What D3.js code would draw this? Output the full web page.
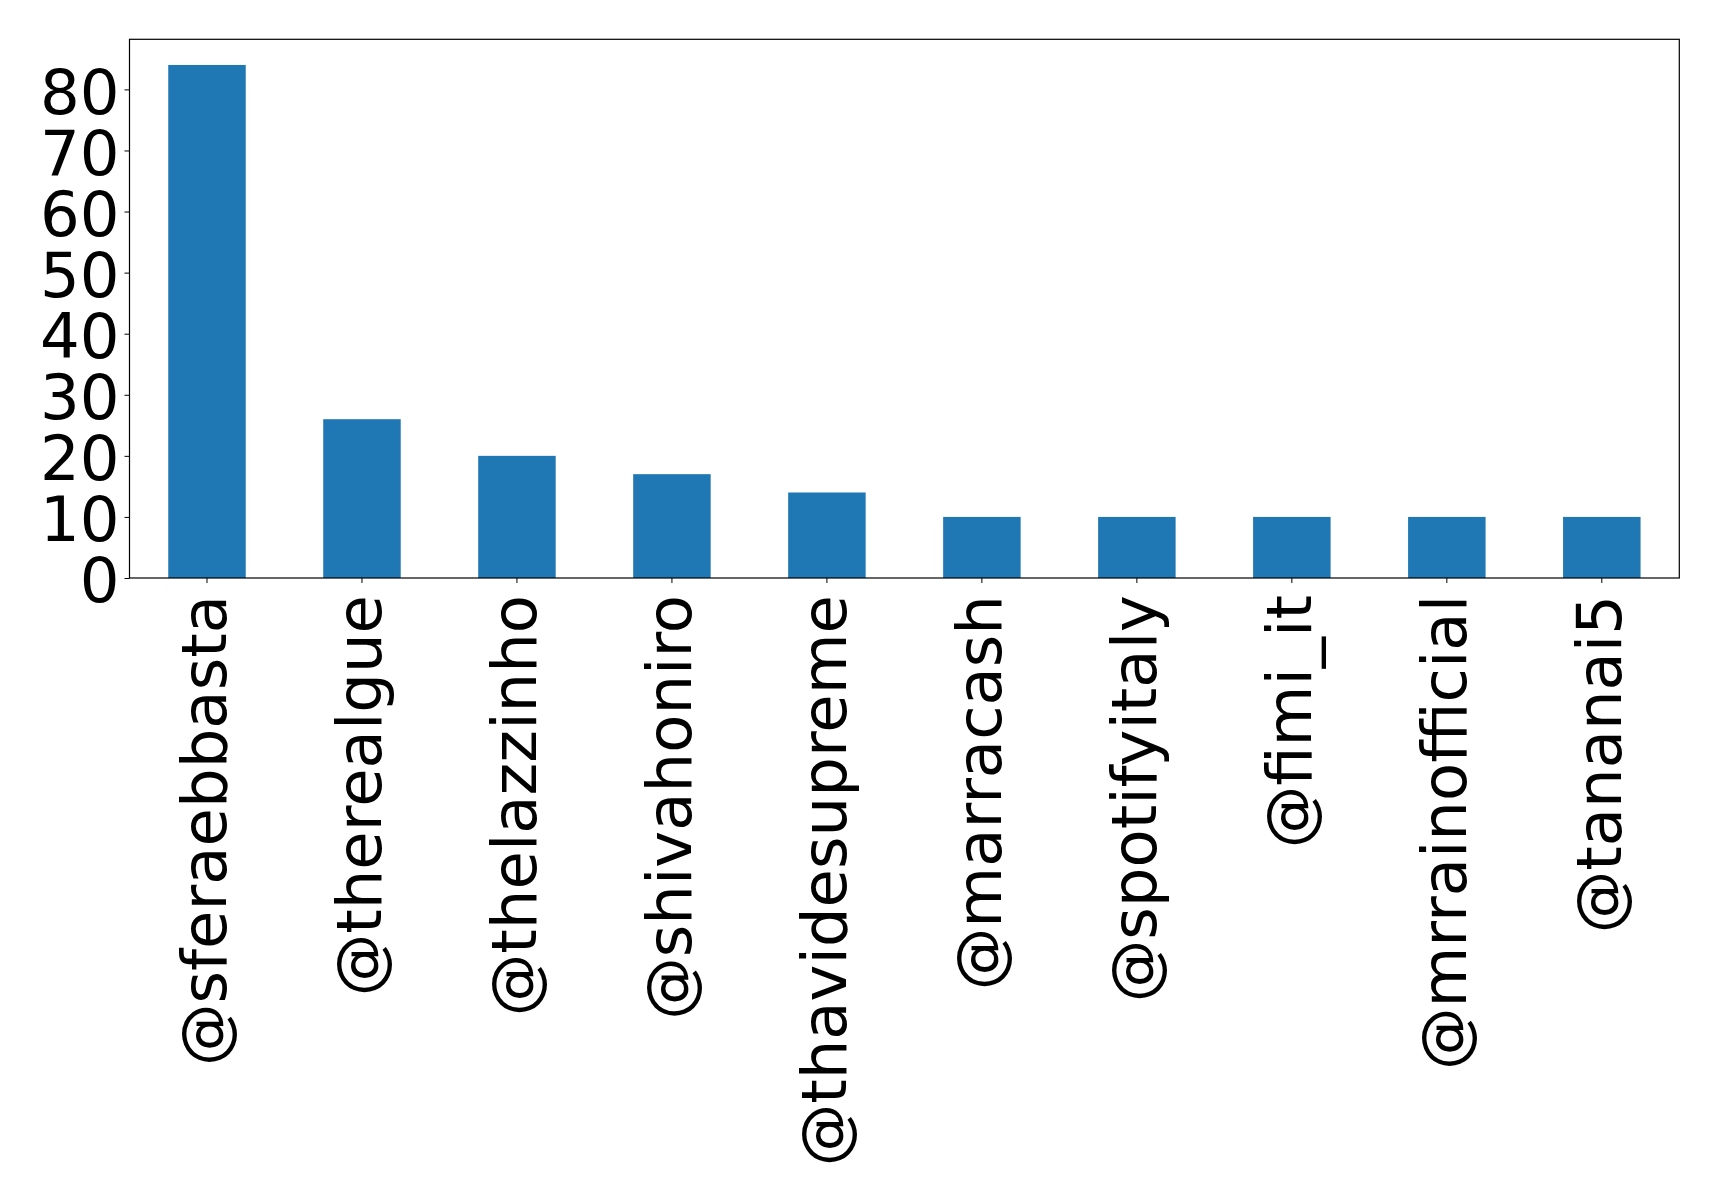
<!DOCTYPE html>
<html><head><meta charset="utf-8">
<script src="https://cdn.jsdelivr.net/npm/d3@7"></script>
<style>html,body{margin:0;padding:0;background:#fff;}svg{display:block;}</style>
</head><body>
<script>
const categories = ["@sferaebbasta","@therealgue","@thelazzinho","@shivahoniro","@thavidesupreme","@marracash","@spotifyitaly","@fimi_it","@mrrainofficial","@tananai5"];
const values = [84, 26, 20, 17, 14, 10, 10, 10, 10, 10];
const yTicks = [0, 10, 20, 30, 40, 50, 60, 70, 80];

const W = 1719, H = 1199;
const m = {left: 129.5, top: 39.3, right: W - 1679.3, bottom: H - 578};
const fontSize = 62.5;
const svg = d3.select("body").append("svg").attr("width", W).attr("height", H)
  .style("font-family", "'DejaVu Sans', sans-serif");

const x = d3.scaleBand().domain(categories).range([m.left, W - m.right]).paddingInner(0.5).paddingOuter(0.25);
const yMax = d3.max(values) * 1.05;
const y = d3.scaleLinear().domain([0, yMax]).range([H - m.bottom, m.top]);

svg.append("g").selectAll("rect").data(values).join("rect")
  .attr("x", (d, i) => x(categories[i]))
  .attr("width", x.bandwidth())
  .attr("y", d => y(d))
  .attr("height", d => y(0) - y(d))
  .attr("fill", "#1f77b4");

// Y axis
const yAxis = svg.append("g").attr("transform", `translate(${m.left},0)`)
  .call(d3.axisLeft(y).tickValues(yTicks).tickSize(5).tickPadding(5));
yAxis.select(".domain").remove();
yAxis.selectAll("line").attr("stroke", "#000").attr("stroke-width", 1);
yAxis.selectAll("text").attr("font-size", fontSize).attr("fill", "#000")
  .attr("font-family", "'DejaVu Sans', sans-serif").attr("dy", "0.38em");

// X axis
const xAxis = svg.append("g").attr("transform", `translate(0,${H - m.bottom})`)
  .call(d3.axisBottom(x).tickSize(5).tickPadding(0));
xAxis.select(".domain").remove();
xAxis.selectAll("line").attr("stroke", "#000").attr("stroke-width", 1);
xAxis.selectAll("text")
  .attr("font-size", fontSize).attr("fill", "#000")
  .attr("font-family", "'DejaVu Sans', sans-serif")
  .attr("text-anchor", "end")
  .attr("y", 0).attr("dy", "0.3em")
  .attr("transform", "translate(0,17) rotate(-90)");

// Frame
svg.append("rect")
  .attr("x", m.left).attr("y", m.top)
  .attr("width", W - m.right - m.left).attr("height", H - m.bottom - m.top)
  .attr("fill", "none").attr("stroke", "#000").attr("stroke-width", 1.2);
</script>
</body></html>
